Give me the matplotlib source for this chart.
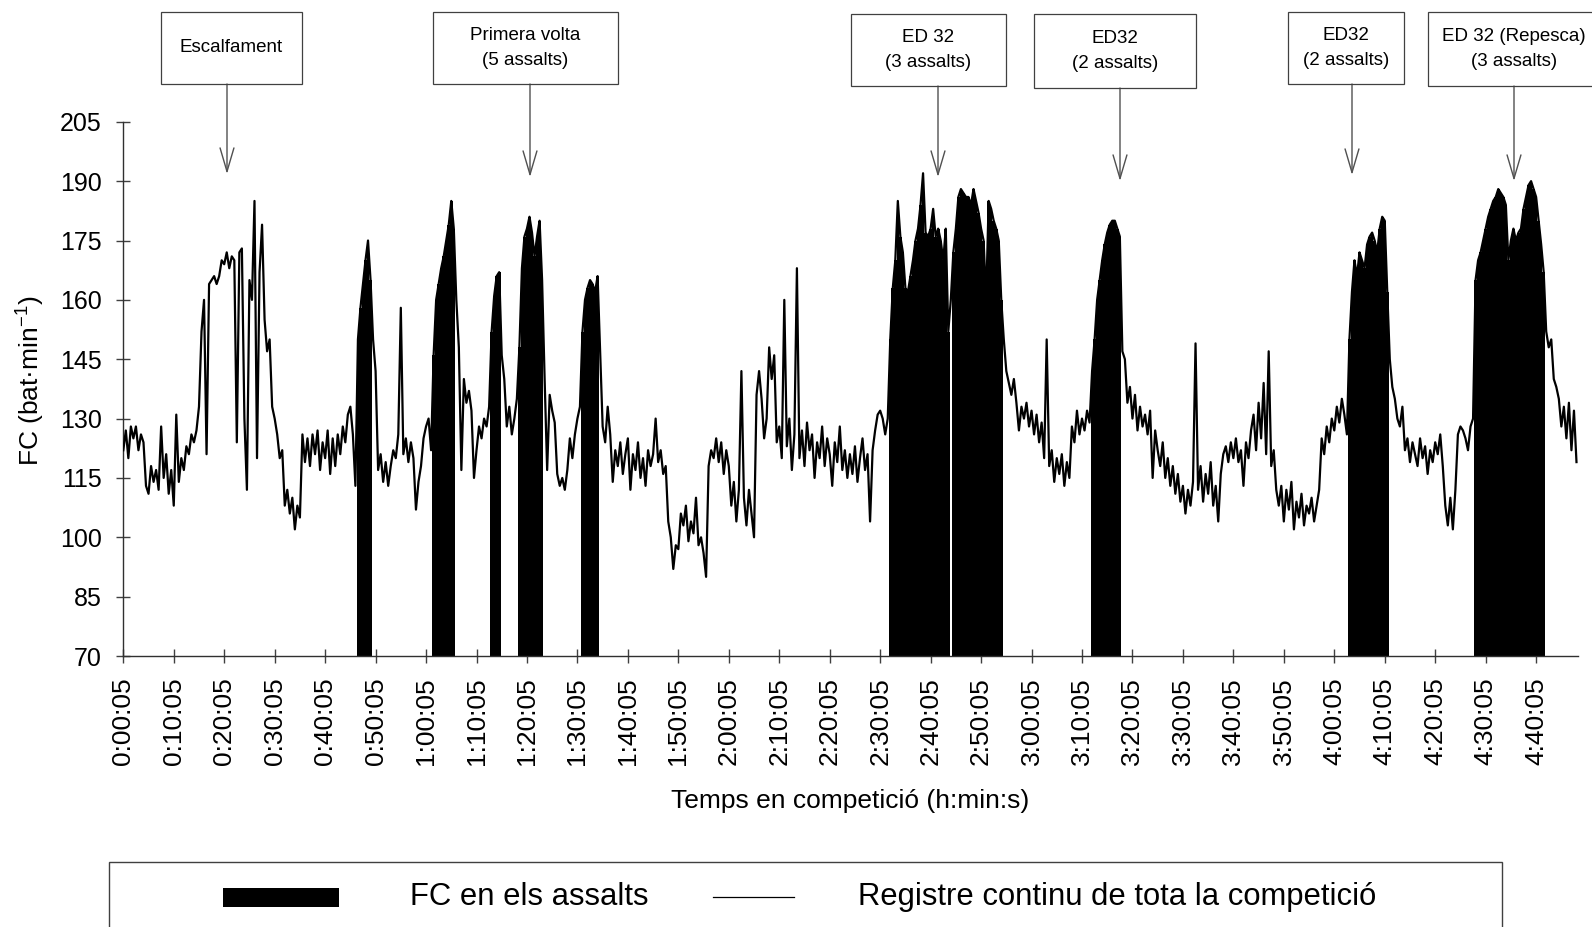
import numpy as np
import matplotlib
matplotlib.use("Agg")
import matplotlib.pyplot as plt
from matplotlib.patches import Rectangle
from matplotlib.lines import Line2D

plt.rcParams['font.family'] = ['Liberation Sans', 'DejaVu Sans']
plt.rcParams['mathtext.fontset'] = 'custom'
plt.rcParams['mathtext.rm'] = 'Liberation Sans'
plt.rcParams['mathtext.it'] = 'Liberation Sans:italic'

# Heart rate (bat/min), one reading every 30 s, in 10-minute blocks
hr_0000 = [122, 127, 120, 128, 125, 128, 122, 126, 124, 113, 111, 118, 114, 117, 112, 128, 115, 121, 111, 117]
hr_0010 = [108, 131, 114, 120, 117, 123, 121, 126, 124, 127, 133, 152, 160, 121, 164, 165, 166, 164, 166, 170]
hr_0020 = [169, 172, 168, 171, 170, 124, 172, 173, 130, 112, 165, 160, 185, 120, 167, 179, 155, 147, 150, 133]
hr_0030 = [130, 126, 120, 122, 108, 112, 106, 110, 102, 108, 105, 126, 119, 125, 118, 126, 121, 127, 117, 124]
hr_0040 = [120, 127, 116, 125, 118, 126, 121, 128, 124, 131, 133, 126, 113, 150, 158, 164, 170, 175, 165, 150]
hr_0050 = [142, 117, 121, 114, 119, 113, 118, 122, 120, 126, 158, 121, 125, 119, 124, 120, 107, 114, 118, 125]
hr_0100 = [128, 130, 122, 146, 160, 164, 168, 171, 175, 179, 185, 178, 160, 148, 117, 140, 134, 137, 132, 115]
hr_0110 = [122, 128, 125, 130, 128, 133, 152, 161, 166, 167, 146, 140, 128, 133, 126, 130, 135, 148, 168, 176]
hr_0120 = [178, 181, 177, 171, 176, 180, 165, 140, 117, 136, 132, 129, 116, 113, 115, 112, 117, 125, 120, 126]
hr_0130 = [130, 133, 152, 160, 163, 165, 164, 162, 166, 147, 128, 124, 133, 126, 114, 122, 118, 124, 116, 121]
hr_0140 = [125, 112, 121, 117, 124, 115, 120, 113, 122, 118, 121, 130, 119, 122, 116, 118, 104, 100, 92, 98]
hr_0150 = [97, 106, 103, 108, 99, 104, 101, 110, 98, 100, 96, 90, 118, 122, 120, 125, 119, 124, 116, 122]
hr_0200 = [118, 108, 114, 104, 112, 142, 110, 103, 112, 106, 100, 136, 142, 135, 125, 130, 148, 140, 146, 124]
hr_0210 = [128, 120, 160, 123, 130, 117, 126, 168, 120, 127, 118, 129, 122, 126, 115, 124, 120, 128, 118, 125]
hr_0220 = [121, 113, 124, 119, 128, 117, 122, 115, 121, 116, 123, 114, 120, 125, 117, 121, 104, 122, 127, 131]
hr_0230 = [132, 130, 126, 130, 150, 163, 170, 185, 176, 172, 163, 162, 166, 170, 175, 178, 184, 192, 177, 176]
hr_0240 = [178, 183, 176, 178, 175, 170, 178, 152, 160, 172, 178, 186, 188, 187, 186, 186, 184, 188, 185, 182]
hr_0250 = [178, 175, 160, 185, 183, 180, 178, 175, 160, 150, 142, 139, 136, 140, 134, 127, 133, 130, 134, 128]
hr_0300 = [132, 126, 131, 124, 129, 120, 150, 118, 122, 114, 120, 116, 121, 113, 119, 115, 128, 124, 132, 126]
hr_0310 = [130, 127, 132, 129, 142, 150, 160, 165, 170, 174, 177, 179, 180, 180, 178, 176, 147, 145, 134, 138]
hr_0320 = [130, 136, 127, 133, 128, 131, 126, 132, 115, 127, 122, 118, 124, 115, 120, 113, 118, 111, 116, 109]
hr_0330 = [113, 106, 112, 108, 114, 149, 112, 118, 109, 116, 111, 119, 108, 113, 104, 116, 121, 123, 119, 124]
hr_0340 = [120, 125, 119, 122, 113, 124, 120, 127, 131, 122, 134, 125, 139, 121, 147, 118, 122, 112, 108, 113]
hr_0350 = [104, 112, 107, 114, 102, 109, 105, 111, 103, 108, 106, 110, 104, 108, 112, 125, 121, 128, 124, 130]
hr_0400 = [127, 133, 129, 135, 131, 126, 150, 162, 170, 166, 172, 170, 168, 174, 176, 177, 175, 172, 178, 181]
hr_0410 = [180, 162, 145, 138, 135, 130, 128, 133, 122, 125, 119, 124, 121, 118, 125, 120, 123, 116, 122, 119]
hr_0420 = [124, 121, 126, 118, 108, 103, 110, 102, 112, 126, 128, 127, 125, 122, 128, 130, 165, 170, 172, 175]
hr_0430 = [178, 181, 183, 185, 186, 188, 187, 186, 184, 170, 175, 178, 175, 177, 178, 183, 186, 189, 190, 188]
hr_0440 = [186, 180, 174, 167, 152, 148, 150, 140, 138, 135, 128, 133, 125, 134, 122, 132, 119]

hr = np.array(hr_0000 + hr_0010 + hr_0020 + hr_0030 + hr_0040 + hr_0050 +
              hr_0100 + hr_0110 + hr_0120 + hr_0130 + hr_0140 + hr_0150 +
              hr_0200 + hr_0210 + hr_0220 + hr_0230 + hr_0240 + hr_0250 +
              hr_0300 + hr_0310 + hr_0320 + hr_0330 + hr_0340 + hr_0350 +
              hr_0400 + hr_0410 + hr_0420 + hr_0430 + hr_0440)
minutes = np.arange(len(hr)) * 0.5  # minutes after 0:00:05

# bouts (first and last reading, minutes)
bouts = [(46.5, 49.0), (61.5, 65.5), (73.0, 74.5), (78.5, 83.0), (91.0, 94.0),
         (152.0, 163.5), (164.5, 174.0), (192.0, 197.5), (243.0, 250.5),
         (268.0, 274.0), (274.5, 281.5)]

tick_minutes = list(range(0, 281, 10))
tick_labels = ['0:00:05', '0:10:05', '0:20:05', '0:30:05', '0:40:05', '0:50:05',
               '1:00:05', '1:10:05', '1:20:05', '1:30:05', '1:40:05', '1:50:05',
               '2:00:05', '2:10:05', '2:20:05', '2:30:05', '2:40:05', '2:50:05',
               '3:00:05', '3:10:05', '3:20:05', '3:30:05', '3:40:05', '3:50:05',
               '4:00:05', '4:10:05', '4:20:05', '4:30:05', '4:40:05']

# phase boxes: left, top, right, bottom (px), text, arrow x, arrow tip y
phases = [
    (161, 12, 302, 84, 'Escalfament', 227, 174),
    (433, 12, 618, 84, 'Primera volta\n(5 assalts)', 530, 177),
    (851, 14, 1006, 86, 'ED 32\n(3 assalts)', 938, 177),
    (1034, 14, 1196, 88, 'ED32\n(2 assalts)', 1120, 181),
    (1288, 12, 1404, 84, 'ED32\n(2 assalts)', 1352, 175),
    (1428, 12, 1600, 86, 'ED 32 (Repesca)\n(3 assalts)', 1514, 181),
]

W, H = 1592, 927


def fx(x):
    return x / W


def fy(y):
    return 1 - y / H


fig = plt.figure(figsize=(W / 100, H / 100), dpi=100)
ax = fig.add_axes([fx(123.3), fy(656), fx(1578) - fx(123.3), fy(121.8) - fy(656)])

# columns during the bouts
for start, end in bouts:
    sel = (minutes >= start - 0.01) & (minutes <= end + 0.01)
    ax.bar(minutes[sel], hr[sel] - 70, bottom=70, width=0.52, color='black',
           linewidth=0, zorder=2)

# continuous record
ax.plot(minutes, hr, color='black', lw=1.6, zorder=3)

ax.set_xlim(0, 288.3)
ax.set_ylim(70, 205)
ax.set_yticks(range(70, 206, 15))
ax.set_xticks(tick_minutes)
ax.set_xticklabels(tick_labels, rotation=90, fontsize=19)
ax.tick_params(axis='y', labelsize=18, pad=10.5)
ax.tick_params(axis='x', pad=10.5)
ax.tick_params(direction='inout', length=10, width=1, color='#404040')
for side in ['top', 'right']:
    ax.spines[side].set_visible(False)
for side in ['left', 'bottom']:
    ax.spines[side].set_color('#303030')
    ax.spines[side].set_linewidth(1)

fig.text(fx(850), fy(801), 'Temps en competició (h:min:s)', ha='center', va='center',
         fontsize=19)
fig.text(fx(30.5), fy(381), 'FC (bat·min$^{-1}$)', ha='center', va='center',
         rotation=90, fontsize=19)

# phase labels with arrows
for left, top, right, bottom, label, ax_x, tip in phases:
    fig.add_artist(Rectangle((fx(left), fy(bottom)), fx(right) - fx(left), fy(top) - fy(bottom),
                             transform=fig.transFigure, fill=False, edgecolor='#404040', lw=0.9))
    cx = ax_x if right > W else (left + right) / 2
    fig.text(fx(cx), fy((top + bottom) / 2), label, ha='center', va='center',
             fontsize=13.5, linespacing=1.55)
    ax.annotate('', xy=(fx(ax_x), fy(tip)), xycoords='figure fraction',
                xytext=(fx(ax_x), fy(bottom)), textcoords='figure fraction',
                arrowprops=dict(arrowstyle='->, head_length=1.7, head_width=0.5',
                                color='#505050', lw=1, shrinkA=0, shrinkB=0))

# legend
fig.add_artist(Rectangle((fx(109), fy(960)), fx(1502) - fx(109), fy(862) - fy(960),
                         transform=fig.transFigure, fill=False, edgecolor='#404040', lw=1))
fig.add_artist(Rectangle((fx(223), fy(907)), fx(339) - fx(223), fy(888) - fy(907),
                         transform=fig.transFigure, facecolor='black', lw=0))
fig.text(fx(410), fy(897), 'FC en els assalts', ha='left', va='center', fontsize=22.3)
fig.add_artist(Line2D([fx(713), fx(794)], [fy(896.5), fy(896.5)],
                      transform=fig.transFigure, color='black', lw=0.9))
fig.text(fx(858), fy(897), 'Registre continu de tota la competició', ha='left',
         va='center', fontsize=22.3)

fig.savefig('out.png', dpi=100)
plt.close()
